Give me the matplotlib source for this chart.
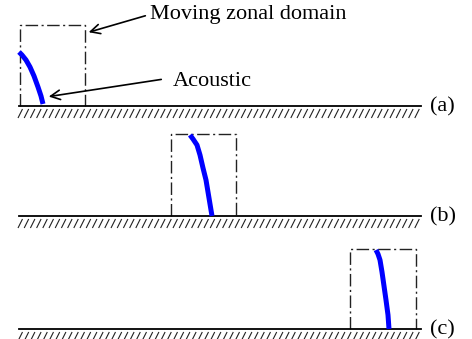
import numpy as np
import matplotlib.pyplot as plt
from matplotlib.collections import LineCollection

# panel geometry (pixel-like units, y downwards)
panel_labels = ['(a)', '(b)', '(c)']
ground_y = [106, 216, 329]
ground_x = [19, 421]
box_left = [20, 171, 350]
box_right = [85, 236, 416]
box_top = [25, 134, 249]

# acoustic front curves
curve_a_x = [19, 22, 26, 30, 34, 38, 41, 43]
curve_a_y = [52, 55, 60, 67, 76, 87, 96, 104]
curve_b_x = [190, 193, 197, 200, 203, 206, 208, 210, 212]
curve_b_y = [135, 139, 145, 155, 168, 180, 192, 204, 216]
curve_c_x = [376, 378, 380, 382, 384, 386, 388, 389]
curve_c_y = [250, 254, 260, 272, 286, 300, 315, 329]
curves = [(curve_a_x, curve_a_y), (curve_b_x, curve_b_y), (curve_c_x, curve_c_y)]

fig = plt.figure(figsize=(4.72, 3.39), dpi=100)
ax = fig.add_axes([0, 0, 1, 1])
ax.set_xlim(0, 472)
ax.set_ylim(339, 0)
ax.axis('off')

font = dict(family='Liberation Serif', size=16)

for i in range(3):
    gy = ground_y[i]
    # hatching under the wall
    xs = np.arange(ground_x[0] - 1, ground_x[1] - 4, 6.2)
    segs = [[(x, gy + 12), (x + 4.5, gy + 3)] for x in xs]
    ax.add_collection(LineCollection(segs, colors='#222222', linewidths=0.8))
    # moving zonal domain box
    bx = [box_left[i], box_left[i], box_right[i], box_right[i]]
    by = [gy, box_top[i], box_top[i], gy]
    ax.plot(bx, by, color='#222222', lw=1.0, ls=(0, (9, 2.5, 1.5, 2.5)))
    ax.plot(ground_x, [gy, gy], color='black', lw=1.3)
    # acoustic front
    cx, cy = curves[i]
    ax.plot(cx, cy, color='#0000ff', lw=3.6, solid_capstyle='butt')
    ax.text(430, gy + 1, panel_labels[i], va='center', ha='left', **font)

ax.annotate('', xy=(86, 33), xytext=(148, 15),
            arrowprops=dict(arrowstyle='->', color='black', lw=1.2,
                            mutation_scale=17))
ax.text(150, 15, 'Moving zonal domain', va='center', ha='left', **font)
ax.annotate('', xy=(46, 97), xytext=(164, 79),
            arrowprops=dict(arrowstyle='->', color='black', lw=1.2,
                            mutation_scale=17))
ax.text(173, 81, 'Acoustic', va='center', ha='left', **font)

fig.savefig('out.png', dpi=100)
